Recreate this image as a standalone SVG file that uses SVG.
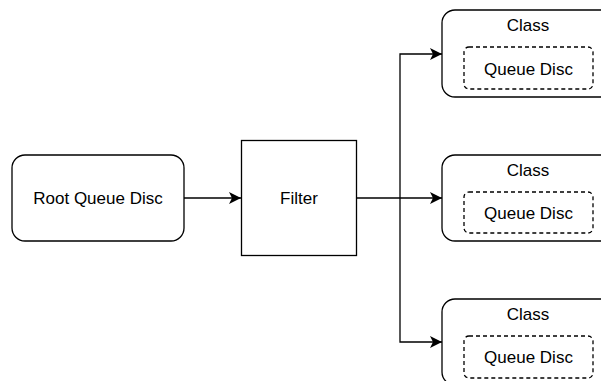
<svg xmlns="http://www.w3.org/2000/svg" width="601" height="381" viewBox="0 0 601 381">
<style>
.box{fill:#fff;stroke:#000;stroke-width:1.3}
.dash{fill:#fff;stroke:#000;stroke-width:1.3;stroke-dasharray:4 3}
.t{font-family:"Liberation Sans",Arial,sans-serif;font-size:17px;fill:#000;text-anchor:middle;dominant-baseline:central}
.c{fill:none;stroke:#000;stroke-width:1.3}
</style>
<defs>
<marker id="ah" markerWidth="13" markerHeight="12" refX="12" refY="6" orient="auto" markerUnits="userSpaceOnUse">
<path d="M0,0 L12,6 L0,12 L3,6 Z" fill="#000"/>
</marker>
</defs>
<rect width="601" height="381" fill="#fff"/>
<g id="connectors">
<path class="c" d="M184,198 H241" marker-end="url(#ah)"/>
<path class="c" d="M356,198 H442" marker-end="url(#ah)"/>
<path class="c" d="M400,198 V54 H442" marker-end="url(#ah)"/>
<path class="c" d="M400,198 V342 H442" marker-end="url(#ah)"/>
</g>
<g id="root">
<rect class="box" x="12" y="155" width="172" height="86" rx="13"/>
<text class="t" x="98" y="198">Root Queue Disc</text>
</g>
<g id="filter">
<rect class="box" x="241.5" y="140.5" width="115" height="115"/>
<text class="t" x="299" y="198">Filter</text>
</g>
<g id="class1">
<rect class="box" x="442" y="10" width="172" height="87" rx="13"/>
<text class="t" x="528" y="25">Class</text>
<rect class="dash" x="464" y="47" width="129" height="42" rx="5"/>
<text class="t" x="528.5" y="69">Queue Disc</text>
</g>
<g id="class2">
<rect class="box" x="442" y="155" width="172" height="86" rx="13"/>
<text class="t" x="528" y="170">Class</text>
<rect class="dash" x="464" y="192" width="129" height="41" rx="5"/>
<text class="t" x="528.5" y="213">Queue Disc</text>
</g>
<g id="class3">
<rect class="box" x="442" y="299" width="172" height="86" rx="13"/>
<text class="t" x="528" y="314">Class</text>
<rect class="dash" x="464" y="336" width="129" height="42" rx="5"/>
<text class="t" x="528.5" y="357">Queue Disc</text>
</g>
</svg>
